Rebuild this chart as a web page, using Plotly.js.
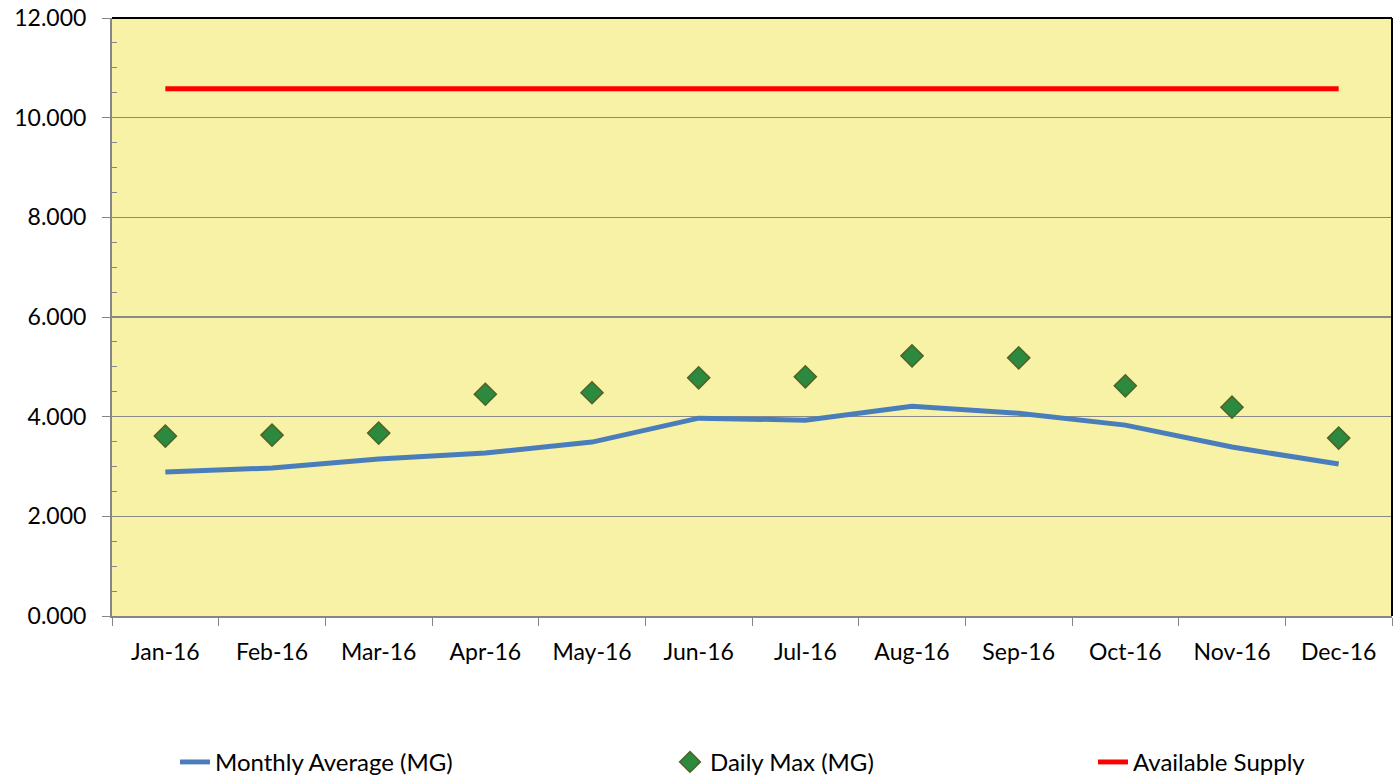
<!DOCTYPE html>
<html>
<head>
<meta charset="utf-8">
<script src="https://cdn.plot.ly/plotly-3.0.1.min.js"></script>
<style>html,body{margin:0;padding:0;background:#fff;}#chart{width:1395px;height:781px;}</style>
</head>
<body>
<div id="chart"></div>
<script>
const months = ["Jan-16","Feb-16","Mar-16","Apr-16","May-16","Jun-16","Jul-16","Aug-16","Sep-16","Oct-16","Nov-16","Dec-16"];
const monthlyAverage = [2.89, 2.97, 3.15, 3.27, 3.49, 3.97, 3.93, 4.21, 4.07, 3.83, 3.39, 3.05];
const dailyMax = [3.61, 3.63, 3.67, 4.45, 4.48, 4.78, 4.80, 5.22, 5.18, 4.62, 4.19, 3.57];
const availableSupply = [10.58, 10.58, 10.58, 10.58, 10.58, 10.58, 10.58, 10.58, 10.58, 10.58, 10.58, 10.58];
const yTicks = [0, 2, 4, 6, 8, 10, 12];
const yTickLabels = ["0.000","2.000","4.000","6.000","8.000","10.000","12.000"];

const font = "Lato, 'Open Sans', sans-serif";
const legFont = {family: font, size: 24, color: "#000"};

const traces = [
  {x: months, y: monthlyAverage, name: "Monthly Average (MG)", type: "scatter", mode: "lines",
   line: {color: "#4A7EBB", width: 5}, legend: "legend"},
  {x: months, y: dailyMax, name: "Daily Max (MG)", type: "scatter", mode: "markers",
   marker: {symbol: "diamond", size: 17, color: "#2B8A3E", line: {color: "#4F6228", width: 1.5}}, legend: "legend2"},
  {x: months, y: availableSupply, name: "Available Supply", type: "scatter", mode: "lines",
   line: {color: "#FF0000", width: 5}, legend: "legend3"}
];

function leg(xpx) {
  return {orientation: "h", x: (xpx - 112) / 1280, xanchor: "left", xref: "paper",
          y: -0.207, yanchor: "top", font: legFont, bgcolor: "rgba(0,0,0,0)", borderwidth: 0};
}

const layout = {
  width: 1395, height: 781,
  margin: {l: 112, r: 3, t: 18, b: 165, autoexpand: false},
  paper_bgcolor: "#ffffff",
  plot_bgcolor: "#F8F2A6",
  font: {family: font, size: 23, color: "#000"},
  showlegend: true,
  legend: leg(175),
  legend2: leg(670),
  legend3: leg(1093),
  xaxis: {type: "category", range: [-0.5, 11.5], tickson: "boundaries", ticks: "outside",
          ticklen: 8, tickcolor: "#868686", showline: true, linecolor: "#868686", linewidth: 2,
          showgrid: false, zeroline: false, ticklabelstandoff: 14, fixedrange: true, automargin: false},
  yaxis: {range: [0, 12], tickvals: yTicks, ticktext: yTickLabels, ticks: "outside", ticklen: 8,
          tickcolor: "#868686", showline: true, linecolor: "#868686", linewidth: 2,
          showgrid: true, gridcolor: "#8A8A8A", gridwidth: 1.5, zeroline: false,
          ticklabelstandoff: 11, automargin: false,
          minor: {dtick: 0.5, ticks: "inside", ticklen: 5, tickcolor: "#868686", showgrid: false},
          fixedrange: true},
  shapes: [
    {type: "line", xref: "paper", yref: "paper", x0: 0, x1: 1, y0: 1, y1: 1, line: {color: "#000", width: 2}},
    {type: "line", xref: "paper", yref: "paper", x0: 1, x1: 1, y0: 0, y1: 1, line: {color: "#000", width: 2}}
  ]
};

Plotly.newPlot("chart", traces, layout, {displayModeBar: false, staticPlot: true});
</script>
</body>
</html>
